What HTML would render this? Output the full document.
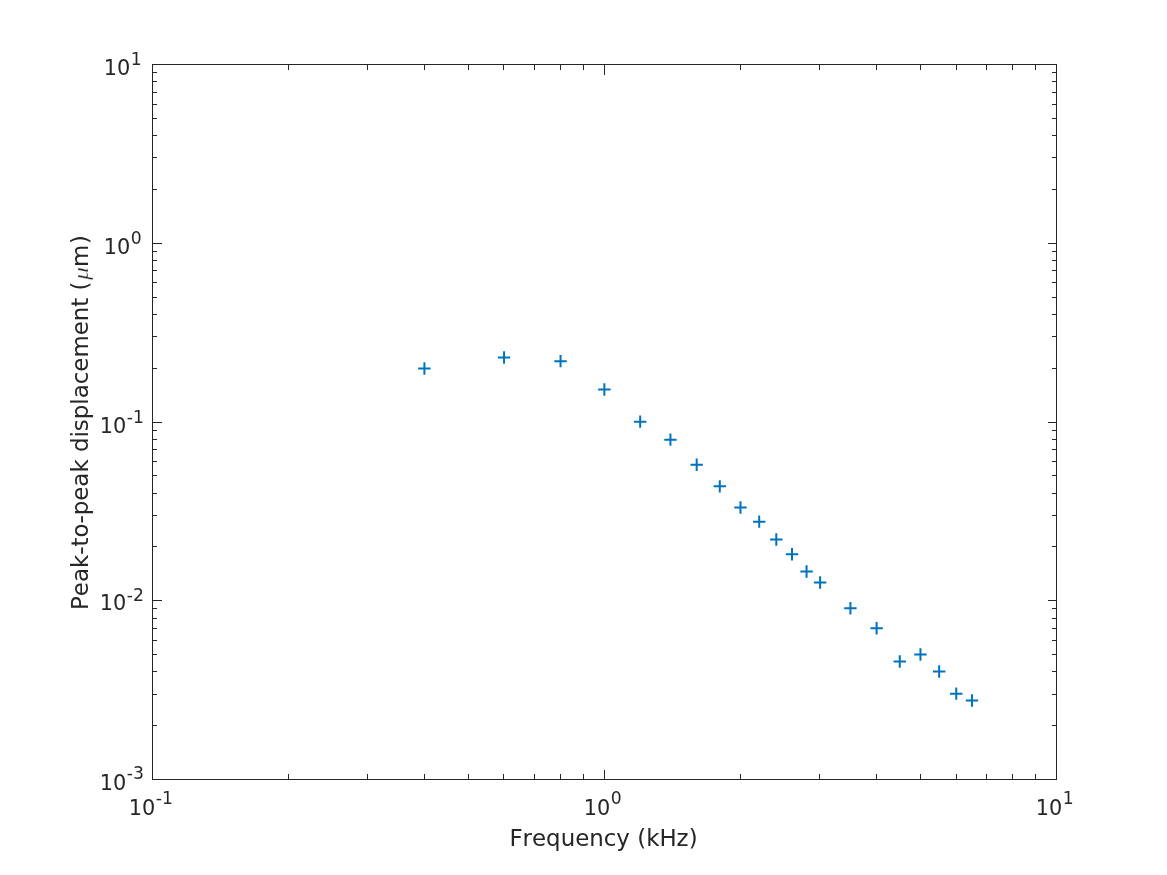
<!DOCTYPE html>
<html lang="en"><head><meta charset="utf-8"><title>Peak-to-peak displacement vs Frequency</title>
<style>html,body{margin:0;padding:0;background:#fff;}body{width:1167px;height:875px;overflow:hidden;}svg{display:block;}svg{will-change:transform;}text{font-family:'DejaVu Sans', 'Liberation Sans', sans-serif;fill:#262626;filter:opacity(1);font-kerning:none;font-variant-ligatures:none;}</style></head><body>
<svg width="1167" height="875" viewBox="0 0 1167 875">
<rect x="0" y="0" width="1167" height="875" fill="#ffffff"/>
<path d="M288.5 779.5v-5.5M288.5 64.5v5.5M367.5 779.5v-5.5M367.5 64.5v5.5M424.5 779.5v-5.5M424.5 64.5v5.5M468.5 779.5v-5.5M468.5 64.5v5.5M503.5 779.5v-5.5M503.5 64.5v5.5M534.5 779.5v-5.5M534.5 64.5v5.5M560.5 779.5v-5.5M560.5 64.5v5.5M583.5 779.5v-5.5M583.5 64.5v5.5M604.5 779.5v-10.0M604.5 64.5v10.0M740.5 779.5v-5.5M740.5 64.5v5.5M819.5 779.5v-5.5M819.5 64.5v5.5M876.5 779.5v-5.5M876.5 64.5v5.5M920.5 779.5v-5.5M920.5 64.5v5.5M956.5 779.5v-5.5M956.5 64.5v5.5M986.5 779.5v-5.5M986.5 64.5v5.5M1012.5 779.5v-5.5M1012.5 64.5v5.5M1035.5 779.5v-5.5M1035.5 64.5v5.5M152.5 725.5h4.5M1056.5 725.5h-4.5M152.5 694.5h4.5M1056.5 694.5h-4.5M152.5 671.5h4.5M1056.5 671.5h-4.5M152.5 654.5h4.5M1056.5 654.5h-4.5M152.5 640.5h4.5M1056.5 640.5h-4.5M152.5 628.5h4.5M1056.5 628.5h-4.5M152.5 618.5h4.5M1056.5 618.5h-4.5M152.5 608.5h4.5M1056.5 608.5h-4.5M152.5 600.5h9.0M1056.5 600.5h-9.0M152.5 546.5h4.5M1056.5 546.5h-4.5M152.5 515.5h4.5M1056.5 515.5h-4.5M152.5 493.5h4.5M1056.5 493.5h-4.5M152.5 475.5h4.5M1056.5 475.5h-4.5M152.5 461.5h4.5M1056.5 461.5h-4.5M152.5 449.5h4.5M1056.5 449.5h-4.5M152.5 439.5h4.5M1056.5 439.5h-4.5M152.5 430.5h4.5M1056.5 430.5h-4.5M152.5 422.5h9.0M1056.5 422.5h-9.0M152.5 368.5h4.5M1056.5 368.5h-4.5M152.5 336.5h4.5M1056.5 336.5h-4.5M152.5 314.5h4.5M1056.5 314.5h-4.5M152.5 297.5h4.5M1056.5 297.5h-4.5M152.5 282.5h4.5M1056.5 282.5h-4.5M152.5 270.5h4.5M1056.5 270.5h-4.5M152.5 260.5h4.5M1056.5 260.5h-4.5M152.5 251.5h4.5M1056.5 251.5h-4.5M152.5 243.5h9.0M1056.5 243.5h-9.0M152.5 189.5h4.5M1056.5 189.5h-4.5M152.5 157.5h4.5M1056.5 157.5h-4.5M152.5 135.5h4.5M1056.5 135.5h-4.5M152.5 118.5h4.5M1056.5 118.5h-4.5M152.5 104.5h4.5M1056.5 104.5h-4.5M152.5 92.5h4.5M1056.5 92.5h-4.5M152.5 81.5h4.5M1056.5 81.5h-4.5M152.5 72.5h4.5M1056.5 72.5h-4.5" stroke="#262626" stroke-width="1" fill="none" shape-rendering="crispEdges"/>
<rect x="152.5" y="64.5" width="904.0" height="715.0" fill="none" stroke="#262626" stroke-width="1" shape-rendering="crispEdges"/>
<path d="M418.21 368.45h12.40M424.41 362.25v12.40M497.84 357.45h12.40M504.04 351.25v12.40M554.34 361.15h12.40M560.54 354.95v12.40M598.16 389.55h12.40M604.36 383.35v12.40M633.97 421.65h12.40M640.17 415.45v12.40M664.24 439.65h12.40M670.44 433.45v12.40M690.47 464.75h12.40M696.67 458.55v12.40M713.60 486.35h12.40M719.80 480.15v12.40M734.29 507.55h12.40M740.49 501.35v12.40M753.01 521.65h12.40M759.21 515.45v12.40M770.10 539.55h12.40M776.30 533.35v12.40M785.82 554.25h12.40M792.02 548.05v12.40M800.37 571.55h12.40M806.57 565.35v12.40M813.92 582.45h12.40M820.12 576.25v12.40M844.20 608.25h12.40M850.40 602.05v12.40M870.42 628.25h12.40M876.62 622.05v12.40M893.55 661.45h12.40M899.75 655.25v12.40M914.25 654.55h12.40M920.45 648.35v12.40M932.96 671.45h12.40M939.16 665.25v12.40M950.05 693.65h12.40M956.25 687.45v12.40M965.77 700.45h12.40M971.97 694.25v12.40" stroke="#0072bd" stroke-width="2.0" fill="none"/>
<text x="103.70" y="75.00" font-size="20.83">10<tspan dx="0.55" dy="-9.90" font-size="17.20">1</tspan></text>
<text x="103.70" y="253.80" font-size="20.83">10<tspan dx="0.55" dy="-9.90" font-size="17.20">0</tspan></text>
<text x="99.70" y="432.60" font-size="20.83">10<tspan dx="0.55" dy="-9.90" font-size="17.20">-1</tspan></text>
<text x="99.70" y="610.20" font-size="20.83">10<tspan dx="0.55" dy="-9.70" font-size="17.20">-2</tspan></text>
<text x="99.70" y="789.95" font-size="20.83">10<tspan dx="0.55" dy="-10.90" font-size="17.20">-3</tspan></text>
<text x="128.70" y="814.80" font-size="20.83">10<tspan dx="0.55" dy="-10.90" font-size="17.20">-1</tspan></text>
<text x="583.70" y="814.80" font-size="20.83">10<tspan dx="0.55" dy="-10.90" font-size="17.20">0</tspan></text>
<text x="1035.70" y="814.80" font-size="20.83">10<tspan dx="0.55" dy="-10.90" font-size="17.20">1</tspan></text>
<text x="603.50" y="845.70" font-size="22.92" text-anchor="middle">Frequency (kHz)</text>
<g transform="translate(87.90 610.00) rotate(-90)" font-size="22.92">
<text x="0" y="0">Peak-to-peak displacement (</text>
<text transform="translate(329.90 0) scale(1.200 1)" font-size="21.60" font-style="italic" stroke="#ffffff" stroke-width="0.3" style="font-family:'Liberation Serif','DejaVu Serif',serif">μ</text>
<text x="342.90" y="0">m<tspan dx="0.9">)</tspan></text>
</g>
</svg></body></html>
